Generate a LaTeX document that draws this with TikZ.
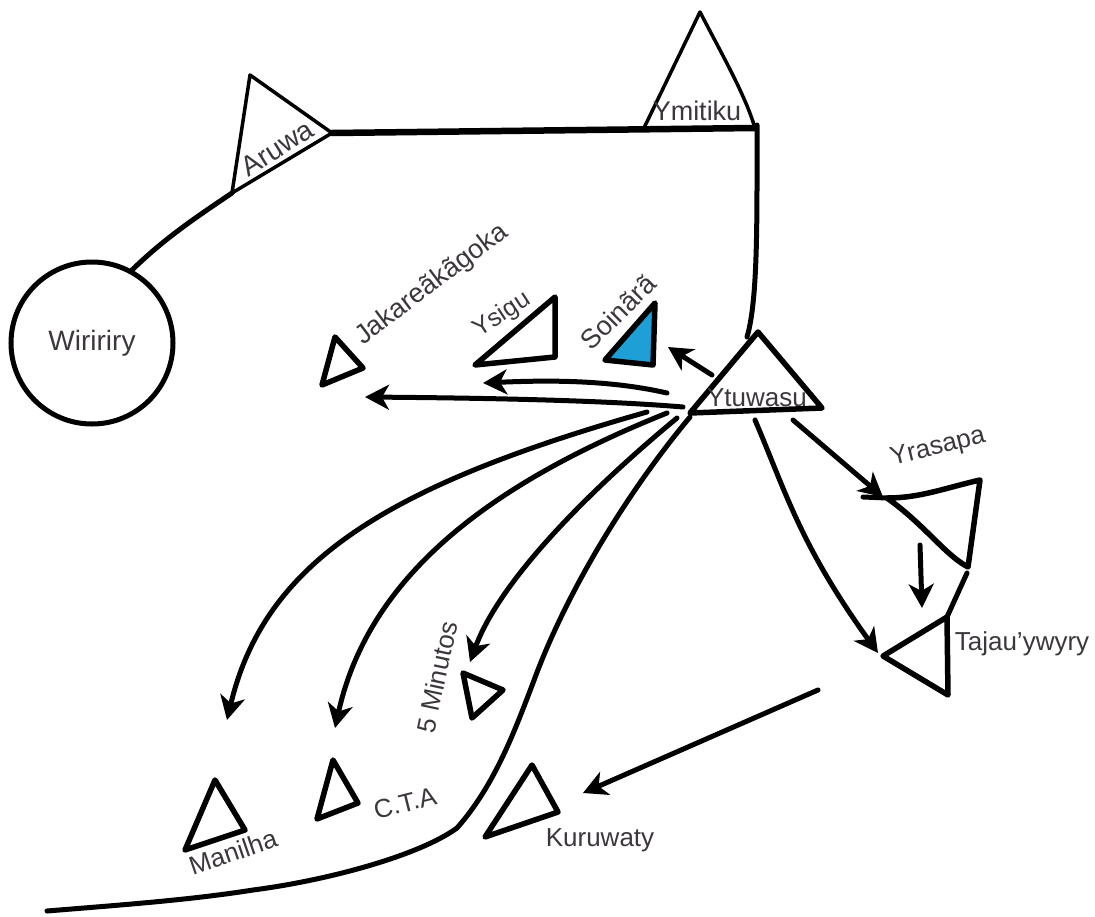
\documentclass[tikz,border=0pt]{standalone}
\usepackage{fontspec}
\setmainfont{Liberation Sans}
\usetikzlibrary{arrows.meta}
\definecolor{labelgray}{RGB}{60, 55, 60}
\definecolor{soinablue}{RGB}{30, 160, 215}
\tikzset{
  trail/.style={line width=5pt, line cap=round, line join=round},
  hut/.style={line width=5.5pt, line join=round, fill=white},
  going/.style={trail, -{Stealth[length=24pt, width=25pt, inset=7pt]}},
  place/.style={text=labelgray, inner sep=0pt, font=\fontsize{#1}{#1}\selectfont},
  place/.default=26
}
\begin{document}
\begin{tikzpicture}[x=1pt, y=-1pt]
  \useasboundingbox (0,0) rectangle (1095,916);

  % villages
  \draw[hut, line width=3.5pt] (250,75) -- (332,133) coordinate (aruwaR) -- (232,193) coordinate (aruwaL) -- cycle;
  \draw[hut, line width=3.5pt] (700,12) .. controls (725,60) and (745,95) .. (755,128) coordinate (ymitikuR) -- (643,130) coordinate (ymitikuL) -- cycle;
  \draw[hut] (758,332) -- (822,408) -- (690,413) -- cycle;
  \draw[hut] (335,337) -- (363,368) -- (322,385) -- cycle;
  \draw[hut] (555,297) -- (555,357) -- (475,365) -- cycle;
  \draw[hut, fill=soinablue] (655,303) -- (653,365) -- (605,360) -- cycle;
  \draw[hut] (215,780) -- (245,830) -- (185,850) -- cycle;
  \draw[hut] (333,760) -- (358,803) -- (317,819) -- cycle;
  \draw[hut] (463,673) -- (503,690) -- (472,718) -- cycle;
  \draw[hut] (532,765) -- (558,812) -- (485,837) -- cycle;
  \draw[hut] (947,617) coordinate (tajauTop) -- (948,695) -- (883,656) -- cycle;
  \draw[hut] (887,498) .. controls (920,498) and (945,488) .. (980,480) -- (968,567) .. controls (945,555) and (925,525) .. cycle;
  \draw[trail] (863,497) -- (887,498);

  \node[draw, circle, line width=5pt, minimum size=162pt, inner sep=0pt] (wiririry) at (92,343) {};
  \coordinate (kink) at (967,573);

  % trails
  \draw[trail] (aruwaL) .. controls (195,218) and (165,238) .. (132,270);
  \draw[trail, line width=6.5pt] (aruwaR) -- (ymitikuR);
  \draw[trail] (757,125) .. controls (757,220) and (758,300) .. (747,337);
  \draw[trail] (kink) -- (tajauTop);
  \draw[trail] (690,417) .. controls (625,495) and (565,595) .. (533,683) .. controls (515,730) and (495,785) .. (457,828) .. controls (420,855) and (330,880) .. (253,890) .. controls (190,900) and (120,905) .. (47,911);

  % arrows
  \draw[going] (712,375) -- (668,347);
  \draw[going] (667,393) .. controls (610,380) and (550,380) .. (483,383);
  \draw[going] (683,407) .. controls (600,400) and (480,398) .. (365,397);
  \draw[going] (647,412) .. controls (390,485) and (265,560) .. (227,720);
  \draw[going] (667,413) .. controls (500,480) and (370,570) .. (335,728);
  \draw[going] (677,418) .. controls (590,490) and (500,580) .. (470,662);
  \draw[going] (793,420) -- (883,497);
  \draw[going] (755,420) .. controls (785,490) and (800,545) .. (878,653);
  \draw[going] (920,545) -- (922,608);
  \draw[going] (818,690) -- (583,793);

  % labels
  \node[place=28] (wiririryName) at (92,343) {Wiririry};
  \node[place=28, rotate=32] (aruwa) at (277,148) {Aruwa};
  \node[place=27] (ymitiku) at (697,111) {Ymitiku};
  \node[place] (ytuwasu) at (757,398) {Ytuwasu};
  \node[place=27, rotate=37] (jakare) at (432,285) {Jakareãkãgoka};
  \node[place=25, rotate=33] (ysigu) at (502,315) {Ysigu};
  \node[place=27, rotate=45] (soinara) at (618,312) {Soinãrã};
  \node[place, rotate=14] (yrasapa) at (938,448) {Yrasapa};
  \node[place] (tajau) at (1022,644) {Tajau'ywyry};
  \node[place, rotate=78] (minutos) at (437,677) {5 Minutos};
  \node[place, rotate=19] (manilha) at (233,852) {Manilha};
  \node[place, rotate=14] (cta) at (405,803) {C.T.A};
  \node[place] (kuruwaty) at (600,840) {Kuruwaty};
\end{tikzpicture}
\end{document}
